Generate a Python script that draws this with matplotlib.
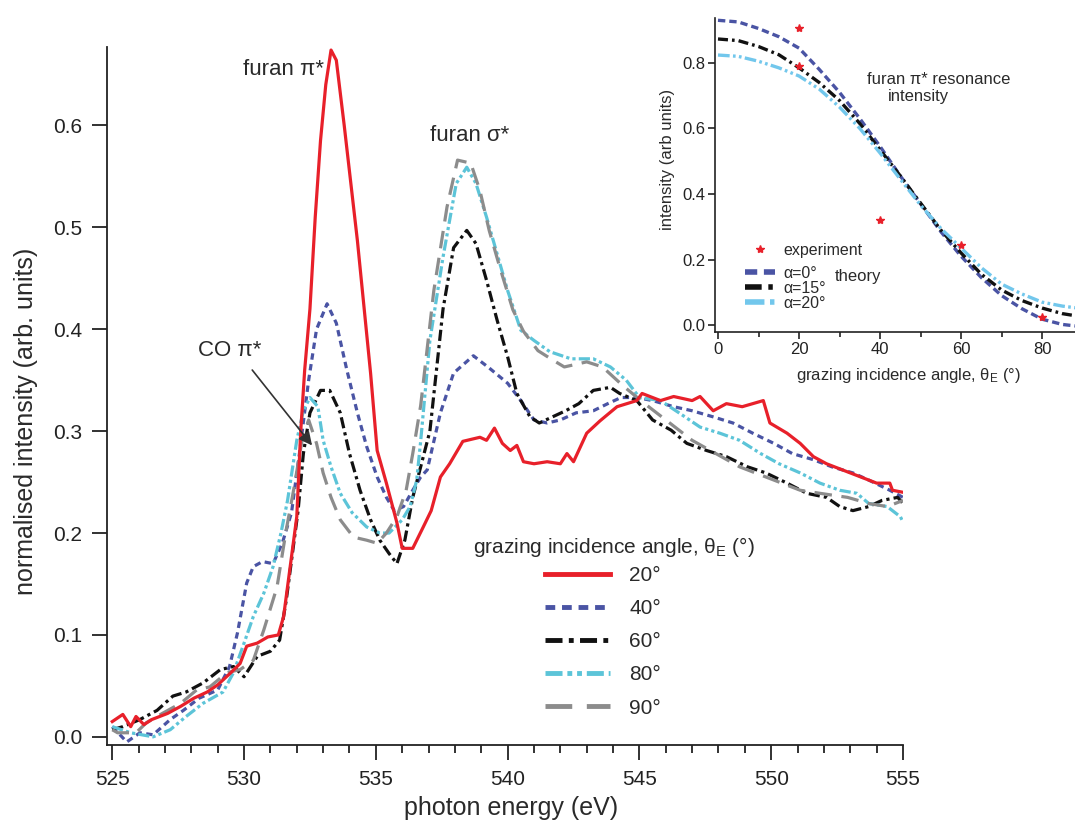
#!/usr/bin/env python3
import matplotlib
matplotlib.use('Agg')
import matplotlib.pyplot as plt
from matplotlib.ticker import MultipleLocator, FormatStrFormatter

plt.rcParams['font.family'] = ['Liberation Sans', 'DejaVu Sans']
plt.rcParams['mathtext.fontset'] = 'custom'
plt.rcParams['mathtext.rm'] = 'Liberation Sans'
plt.rcParams['mathtext.it'] = 'Liberation Sans:italic'

txt = '#2a2a2a'

# ---- main spectra, normalised intensity vs photon energy (eV)
e_20 = [525.0, 525.4, 525.7, 525.9, 526.2, 526.5, 527.1, 527.6, 528.1, 528.6, 529.0, 529.5, 529.85, 530.1,
        530.5, 530.9, 531.3, 531.5, 531.75, 532.0, 532.15, 532.3, 532.5, 532.7, 532.9, 533.1, 533.3, 533.5,
        533.8, 534.3, 534.8, 535.05, 535.4, 535.8, 536.0, 536.4, 536.8, 537.1, 537.45, 537.8, 538.3, 538.95,
        539.2, 539.5, 539.8, 540.1, 540.35, 540.6, 541.0, 541.5, 542.0, 542.25, 542.5, 543.0, 543.5, 544.15,
        544.9, 545.1, 545.8, 546.3, 547.0, 547.3, 547.8, 548.3, 548.9, 549.3, 549.7, 549.95, 550.6, 551.1,
        551.6, 552.1, 552.7, 553.4, 554.0, 554.5, 554.6, 555.0]
v_20 = [0.015, 0.022, 0.010, 0.020, 0.012, 0.017, 0.023, 0.030, 0.038, 0.044, 0.051, 0.063, 0.072, 0.089,
        0.092, 0.098, 0.100, 0.118, 0.167, 0.216, 0.300, 0.360, 0.420, 0.510, 0.585, 0.640, 0.674, 0.664,
        0.600, 0.487, 0.357, 0.281, 0.249, 0.210, 0.185, 0.185, 0.206, 0.222, 0.255, 0.268, 0.290, 0.294,
        0.291, 0.303, 0.288, 0.281, 0.286, 0.270, 0.268, 0.270, 0.268, 0.278, 0.270, 0.298, 0.310, 0.324,
        0.330, 0.337, 0.330, 0.334, 0.330, 0.334, 0.320, 0.327, 0.324, 0.327, 0.330, 0.308, 0.298, 0.288,
        0.275, 0.268, 0.262, 0.255, 0.249, 0.249, 0.242, 0.240]

e_40 = [525.0, 525.55, 526.05, 526.55, 527.2, 527.7, 528.3, 529.0, 529.45, 529.75, 530.1, 530.35, 530.7,
        531.1, 531.45, 531.8, 532.1, 532.45, 532.75, 533.15, 533.5, 533.9, 534.3, 534.65, 535.05, 535.4,
        535.7, 536.05, 536.4, 536.7, 536.95, 537.45, 537.95, 538.7, 539.3, 540.0, 540.5, 541.0, 541.5, 542.0,
        542.6, 543.25, 543.8, 544.3, 544.9, 545.5, 546.3, 547.0, 547.8, 548.55, 549.3, 550.1, 550.8, 551.6,
        552.3, 553.1, 553.7, 554.5, 555.0]
v_40 = [0.010, -0.005, 0.004, 0.002, 0.017, 0.026, 0.038, 0.046, 0.069, 0.102, 0.151, 0.167, 0.172,
        0.170, 0.190, 0.220, 0.278, 0.350, 0.400, 0.425, 0.406, 0.360, 0.318, 0.285, 0.255, 0.235,
        0.222, 0.226, 0.242, 0.255, 0.262, 0.318, 0.357, 0.374, 0.362, 0.347, 0.330, 0.311, 0.308, 0.311,
        0.318, 0.320, 0.327, 0.333, 0.333, 0.330, 0.324, 0.320, 0.314, 0.308, 0.298, 0.288, 0.278, 0.272,
        0.265, 0.259, 0.252, 0.242, 0.235]

e_60 = [525.0, 525.4, 526.05, 526.7, 527.3, 527.8, 528.45, 529.1, 529.6, 530.0, 530.5, 531.0, 531.35,
        531.6, 531.85, 532.05, 532.25, 532.5, 532.9, 533.25, 533.65, 534.0, 534.4, 534.8, 535.15, 535.5,
        535.8, 536.1, 536.4, 536.7, 537.05, 537.55, 537.95, 538.45, 538.8, 539.2, 539.6, 540.0, 540.35,
        540.85, 541.2, 541.7, 542.2, 542.7, 543.25, 543.9, 544.25, 544.9, 545.5, 546.2, 546.8, 547.55,
        548.3, 549.1, 549.8, 550.6, 551.35, 552.1, 552.6, 553.1, 553.7, 554.2, 554.8, 555.0]
v_60 = [0.007, 0.010, 0.017, 0.026, 0.040, 0.044, 0.053, 0.066, 0.069, 0.059, 0.079, 0.084, 0.095,
        0.134, 0.183, 0.222, 0.278, 0.318, 0.340, 0.340, 0.318, 0.278, 0.242, 0.213, 0.193, 0.180,
        0.170, 0.193, 0.235, 0.265, 0.300, 0.420, 0.480, 0.497, 0.484, 0.448, 0.409, 0.373, 0.337,
        0.314, 0.308, 0.314, 0.320, 0.327, 0.340, 0.343, 0.337, 0.330, 0.311, 0.301, 0.288, 0.281,
        0.275, 0.265, 0.259, 0.249, 0.239, 0.235, 0.226, 0.222, 0.226, 0.232, 0.235, 0.229]

e_80 = [525.0, 525.7, 526.55, 527.2, 527.8, 528.45, 529.2, 529.6, 530.0, 530.35, 530.75, 531.1, 531.4,
        531.65, 532.0, 532.25, 532.5, 532.8, 533.0, 533.3, 533.65, 534.1, 534.65, 535.15, 535.5, 536.0,
        536.3, 536.55, 536.7, 537.05, 537.55, 538.05, 538.45, 538.8, 539.2, 539.6, 540.0, 540.5, 541.0,
        541.6, 542.4, 543.25, 543.9, 544.5, 545.0, 545.8, 546.5, 547.3, 548.05, 548.8, 549.6, 550.3, 551.1,
        551.85, 552.6, 553.25, 553.7, 554.4, 554.9, 555.0]
v_80 = [0.010, 0.004, 0.000, 0.007, 0.020, 0.033, 0.044, 0.063, 0.092, 0.118, 0.141, 0.167, 0.200,
        0.232, 0.291, 0.320, 0.333, 0.324, 0.291, 0.265, 0.239, 0.220, 0.206, 0.200, 0.200, 0.213,
        0.226, 0.252, 0.290, 0.389, 0.471, 0.543, 0.559, 0.543, 0.510, 0.474, 0.438, 0.399, 0.389,
        0.378, 0.371, 0.371, 0.363, 0.350, 0.333, 0.330, 0.318, 0.304, 0.298, 0.291, 0.278, 0.268, 0.259,
        0.249, 0.242, 0.239, 0.229, 0.226, 0.216, 0.211]

e_90 = [525.0, 525.2, 525.9, 526.3, 526.9, 527.6, 528.2, 528.7, 529.35, 529.85, 530.35, 530.75, 531.25,
        531.6, 531.9, 532.2, 532.45, 532.75, 533.0, 533.3, 533.65, 534.15, 534.65, 535.05, 535.4, 535.8,
        536.15, 536.4, 536.7, 537.2, 537.7, 538.1, 538.6, 538.95, 539.3, 539.7, 540.2, 540.6, 541.15,
        541.7, 542.15, 543.0, 543.6, 544.4, 545.2, 546.0, 547.0, 547.9, 548.8, 550.1, 551.1, 551.85,
        552.9, 553.7, 554.4, 555.0]
v_90 = [0.007, 0.004, 0.004, 0.014, 0.023, 0.033, 0.046, 0.049, 0.063, 0.066, 0.075, 0.105, 0.147,
        0.203, 0.245, 0.291, 0.311, 0.288, 0.259, 0.235, 0.213, 0.196, 0.193, 0.190, 0.200, 0.216,
        0.242, 0.278, 0.325, 0.438, 0.520, 0.566, 0.563, 0.536, 0.497, 0.461, 0.419, 0.398, 0.379,
        0.370, 0.363, 0.368, 0.363, 0.344, 0.327, 0.311, 0.291, 0.278, 0.265, 0.252, 0.242, 0.239,
        0.235, 0.229, 0.226, 0.232]

angle_labels = ['20°', '40°', '60°', '80°', '90°']

# ---- inset: furan pi* resonance intensity vs grazing angle
exp_angle = [20, 20, 40, 60, 80]
exp_int = [0.905, 0.79, 0.32, 0.245, 0.025]

theta = [0, 5, 10, 15, 20, 25, 30, 35, 40, 45, 50, 55, 60, 65, 70, 75, 80, 85, 90]
th_a0 = [0.93, 0.925, 0.905, 0.88, 0.845, 0.78, 0.71, 0.63, 0.545, 0.455, 0.37, 0.285, 0.21, 0.145,
         0.09, 0.05, 0.018, 0.002, -0.005]
th_a15 = [0.873, 0.868, 0.85, 0.825, 0.785, 0.74, 0.685, 0.615, 0.535, 0.455, 0.372, 0.29, 0.22, 0.155,
          0.107, 0.075, 0.052, 0.035, 0.025]
th_a20 = [0.824, 0.82, 0.805, 0.785, 0.76, 0.72, 0.665, 0.6, 0.525, 0.445, 0.366, 0.295, 0.235, 0.175,
          0.125, 0.095, 0.07, 0.058, 0.05]
theory_labels = ['α=0°', 'α=15°', 'α=20°']

W, H = 1075, 824
fig = plt.figure(figsize=(W / 100, H / 100), dpi=100)

ax = fig.add_axes([107 / W, 1 - 745 / H, (903 - 107) / W, (745 - 47) / H])
styles = [
    dict(color='#e8202a', linestyle='-'),
    dict(color='#4a54a4', dashes=(2.0, 1.4)),
    dict(color='#111111', dashes=(3.5, 1.3, 1.0, 1.3)),
    dict(color='#5cc4d8', dashes=(3.5, 1.0, 1.0, 1.0, 1.0, 1.0)),
    dict(color='#8c8c8c', dashes=(5.5, 3.0)),
]
lines = []
for e, v, lab, st in zip([e_20, e_40, e_60, e_80, e_90], [v_20, v_40, v_60, v_80, v_90], angle_labels, styles):
    ln, = ax.plot(e, v, lw=2.3, label=lab, **st)
    lines.append(ln)
# red on top of the rest
lines[0].set_zorder(3)

ax.set_xlim(524.8, 555)
ax.set_ylim(-0.008, 0.677)
ax.xaxis.set_major_locator(MultipleLocator(5))
ax.xaxis.set_minor_locator(MultipleLocator(1))
ax.yaxis.set_major_locator(MultipleLocator(0.1))
ax.yaxis.set_major_formatter(FormatStrFormatter('%.1f'))
for s in ['top', 'right']:
    ax.spines[s].set_visible(False)
for s in ['left', 'bottom']:
    ax.spines[s].set_linewidth(1.3)
    ax.spines[s].set_color('#222222')
ax.tick_params(axis='both', which='major', direction='out', length=11, width=1.3, labelsize=15,
               colors='#222222', pad=7)
ax.tick_params(axis='x', which='minor', direction='out', length=6, width=1.3, colors='#222222')

ax.set_xlabel('photon energy (eV)', fontsize=18, color=txt)
ax.set_ylabel('normalised intensity (arb. units)', fontsize=18, color=txt)
ax.xaxis.set_label_coords(0.508, -0.090)
ax.xaxis.label.set_va('center')
ax.yaxis.set_label_coords(-0.102, 0.464)
ax.yaxis.label.set_va('center')

ax.text(529.95, 0.655, 'furan π*', fontsize=16, color=txt, va='center')
ax.text(537.06, 0.590, 'furan σ*', fontsize=16, color=txt, va='center')
ax.text(528.26, 0.379, 'CO π*', fontsize=16, color=txt, va='center')
ax.annotate('', xy=(532.58, 0.286), xytext=(530.31, 0.360),
            arrowprops=dict(arrowstyle='-|>', color='#333333', lw=1.2, mutation_scale=20,
                            shrinkA=0, shrinkB=0))

fig.text(473 / W, 1 - 547 / H, r'grazing incidence angle, $\mathregular{\theta_E}$ (°)',
         fontsize=15, color=txt, va='center')
leg = ax.legend(handles=lines, loc='upper left', bbox_to_anchor=(545 / W, 1 - 566 / H),
                bbox_transform=fig.transFigure, frameon=False, fontsize=15, handlelength=3.1,
                handletextpad=0.95, labelspacing=0.68, borderpad=0, borderaxespad=0)
for t in leg.get_texts():
    t.set_color(txt)
for h in leg.get_lines():
    h.set_linewidth(3.5)

# ---- inset
ax2 = fig.add_axes([715 / W, 1 - 332 / H, (W - 715) / W, (332 - 18) / H])
ax2.patch.set_alpha(0)
ex, = ax2.plot(exp_angle, exp_int, linestyle='none', marker='*', markersize=6, color='#e8202a',
               label='experiment', zorder=4)
t0, = ax2.plot(theta, th_a0, color='#4a54a4', lw=2.4, dashes=(2.2, 1.2), label=theory_labels[0])
t15, = ax2.plot(theta, th_a15, color='#111111', lw=2.4, dashes=(3.0, 1.2, 0.8, 1.2), label=theory_labels[1])
t20, = ax2.plot(theta, th_a20, color='#72c7ec', lw=2.4, dashes=(3.5, 1.0, 0.8, 1.0, 0.8, 1.0),
                label=theory_labels[2])

ax2.set_xlim(-0.74, 88.1)
ax2.set_ylim(-0.021, 0.937)
ax2.xaxis.set_major_locator(MultipleLocator(20))
ax2.xaxis.set_minor_locator(MultipleLocator(10))
ax2.yaxis.set_major_locator(MultipleLocator(0.2))
ax2.yaxis.set_major_formatter(FormatStrFormatter('%.1f'))
for s in ['top', 'right']:
    ax2.spines[s].set_visible(False)
for s in ['left', 'bottom']:
    ax2.spines[s].set_linewidth(1.2)
    ax2.spines[s].set_color('#222222')
ax2.tick_params(axis='both', which='major', direction='out', length=5, width=1.2, labelsize=12,
                colors='#222222', pad=2)
ax2.tick_params(axis='x', which='minor', direction='out', length=3.5, width=1.2, colors='#222222')
ax2.set_xlabel(r'grazing incidence angle, $\mathregular{\theta_E}$ (°)', fontsize=12, color=txt)
ax2.set_ylabel('intensity (arb units)', fontsize=12, color=txt)
ax2.xaxis.set_label_coords(0.536, -0.137)
ax2.xaxis.label.set_va('center')
ax2.yaxis.set_label_coords(-0.131, 0.551)
ax2.yaxis.label.set_va('center')

fig.text(867 / W, 1 - 80 / H, 'furan π* resonance', fontsize=12, color=txt, va='center')
fig.text(888 / W, 1 - 96 / H, 'intensity', fontsize=12, color=txt, va='center')
fig.text(835 / W, 1 - 276 / H, 'theory', fontsize=12, color=txt, va='center')

leg_a = ax2.legend(handles=[ex], loc='upper left', bbox_to_anchor=(745 / W, 1 - 243 / H),
                   bbox_transform=fig.transFigure, frameon=False, fontsize=11.5, handlelength=1.9,
                   handletextpad=0.5, borderpad=0, borderaxespad=0)
for t in leg_a.get_texts():
    t.set_color(txt)
ax2.add_artist(leg_a)
leg_b = ax2.legend(handles=[t0, t15, t20], loc='upper left', bbox_to_anchor=(745 / W, 1 - 266 / H),
                   bbox_transform=fig.transFigure, frameon=False, fontsize=11.5, handlelength=1.9,
                   handletextpad=0.5, labelspacing=0.0, borderpad=0, borderaxespad=0)
for t in leg_b.get_texts():
    t.set_color(txt)
for h in leg_b.get_lines():
    h.set_linewidth(4)

fig.savefig('out.png', dpi=100)
